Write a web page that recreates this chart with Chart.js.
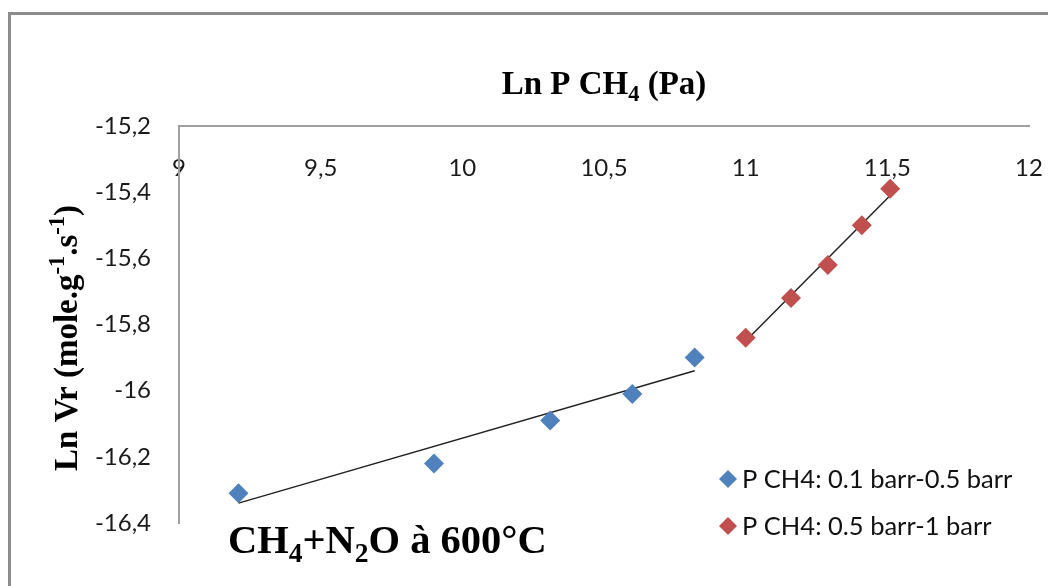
<!DOCTYPE html>
<html lang="fr">
<head>
<meta charset="UTF-8">
<title>Ln Vr vs Ln P CH4</title>
<style>
    html, body { margin: 0; padding: 0; background: #fff; }
    .wrap { width: 1048px; height: 586px; position: relative; }
</style>
</head>
<body>
<div class="wrap"><canvas id="chart" width="1048" height="586"></canvas></div>

<script src="https://cdn.jsdelivr.net/npm/chart.js"></script>
<script>
// measured points: Ln P CH4 (Pa) vs Ln Vr
const lnP_low = [9.21, 9.90, 10.31, 10.60, 10.82];
const lnV_low = [-16.31, -16.22, -16.09, -16.01, -15.90];
const lnP_high = [11.00, 11.16, 11.29, 11.41, 11.51];
const lnV_high = [-15.84, -15.72, -15.62, -15.50, -15.39];

// linear trend lines (end points)
const fitX_low = [9.21, 10.82];
const fitY_low = [-16.34, -15.94];
const fitX_high = [11.00, 11.51];
const fitY_high = [-15.85, -15.41];

const seriesLabels = ['P CH4: 0.1 barr-0.5 barr', 'P CH4: 0.5 barr-1 barr'];
const seriesColors = ['#4F81BD', '#C0504D'];

const xMin = 9, xMax = 12, xStep = 0.5;
const yMin = -16.4, yMax = -15.2, yStep = 0.2;

const pts = (xs, ys) => xs.map((x, i) => ({ x: x, y: ys[i] }));
const comma = v => String(Math.round(v * 10) / 10).replace('.', ',');

const TICK_FONT = { family: 'Lato', size: 24 };
const SERIF = '"Liberation Serif", "Times New Roman", serif';

// draws a run of text pieces with sub/superscripts, starting at x
function drawRich(ctx, parts, x, y, size) {
    let cx = x;
    parts.forEach(p => {
        let s = size, dy = 0;
        if (p.sub) { s = size * 0.68; dy = size * 0.22; }
        if (p.sup) { s = size * 0.68; dy = -size * 0.38; }
        ctx.font = 'bold ' + s + 'px ' + SERIF;
        ctx.fillText(p.t, cx, y + dy);
        cx += ctx.measureText(p.t).width;
    });
    return cx - x;
}
function richWidth(ctx, parts, size) {
    let w = 0;
    parts.forEach(p => {
        const s = (p.sub || p.sup) ? size * 0.68 : size;
        ctx.font = 'bold ' + s + 'px ' + SERIF;
        w += ctx.measureText(p.t).width;
    });
    return w;
}

const decorations = {
    id: 'decorations',
    beforeDraw(chart) {
        const ctx = chart.ctx;
        ctx.save();
        // outer frame (top and left edges visible)
        ctx.strokeStyle = '#8c8c8c';
        ctx.lineWidth = 3;
        ctx.strokeRect(9.5, 13.5, 1100, 700);
        ctx.restore();
    },
    afterDraw(chart) {
        const ctx = chart.ctx;
        ctx.save();
        ctx.fillStyle = '#000';
        ctx.textBaseline = 'alphabetic';

        // x axis title
        const xTitle = [{ t: 'Ln P CH' }, { t: '4', sub: true }, { t: ' (Pa)' }];
        let size = 33;
        let w = richWidth(ctx, xTitle, size);
        drawRich(ctx, xTitle, 604 - w / 2, 94, size);

        // y axis title, rotated
        const yTitle = [{ t: 'Ln Vr (mole.g' }, { t: '-1', sup: true }, { t: '.s' }, { t: '-1', sup: true }, { t: ')' }];
        size = 33;
        w = richWidth(ctx, yTitle, size);
        ctx.save();
        ctx.translate(77, 338);
        ctx.rotate(-Math.PI / 2);
        drawRich(ctx, yTitle, -w / 2, 0, size);
        ctx.restore();

        // reaction note
        const note = [{ t: 'CH' }, { t: '4', sub: true }, { t: '+N' }, { t: '2', sub: true }, { t: 'O à 600°C' }];
        drawRich(ctx, note, 228, 553, 40.5);

        // legend
        ctx.font = '25.5px Lato';
        ctx.textBaseline = 'middle';
        const rows = [479, 526];
        chart.data.datasets.filter(d => d.inLegend).forEach((d, i) => {
            const cx = 728, cy = rows[i], r = 9;
            ctx.fillStyle = d.backgroundColor;
            ctx.beginPath();
            ctx.moveTo(cx - r, cy);
            ctx.lineTo(cx, cy - r);
            ctx.lineTo(cx + r, cy);
            ctx.lineTo(cx, cy + r);
            ctx.closePath();
            ctx.fill();
            ctx.fillStyle = '#111';
            ctx.fillText(d.label, 742, cy + 1);
        });
        ctx.restore();
    }
};

new Chart(document.getElementById('chart'), {
    type: 'scatter',
    data: {
        datasets: [
            {
                label: seriesLabels[0], inLegend: true,
                data: pts(lnP_low, lnV_low),
                backgroundColor: seriesColors[0], borderColor: seriesColors[0],
                pointStyle: 'rectRot', pointRadius: 10, borderWidth: 0
            },
            {
                label: seriesLabels[1], inLegend: true,
                data: pts(lnP_high, lnV_high),
                backgroundColor: seriesColors[1], borderColor: seriesColors[1],
                pointStyle: 'rectRot', pointRadius: 10, borderWidth: 0
            },
            {
                label: 'fit low', type: 'line',
                data: pts(fitX_low, fitY_low),
                borderColor: '#222', borderWidth: 1.5, pointRadius: 0, fill: false
            },
            {
                label: 'fit high', type: 'line',
                data: pts(fitX_high, fitY_high),
                borderColor: '#222', borderWidth: 1.5, pointRadius: 0, fill: false
            }
        ]
    },
    options: {
        responsive: false,
        animation: false,
        layout: { padding: { left: 0, right: 19, top: 126, bottom: 63 } },
        plugins: { legend: { display: false }, tooltip: { enabled: false } },
        scales: {
            x: {
                type: 'linear',
                position: { y: yMax },
                min: xMin, max: xMax,
                afterFit: s => { s.paddingLeft = 0; s.paddingRight = 0; },
                ticks: { stepSize: xStep, callback: comma, font: TICK_FONT, color: '#1a1a1a', padding: 28, maxRotation: 0 },
                grid: { drawOnChartArea: false, drawTicks: false },
                border: { color: '#a0a0a0', width: 2 }
            },
            y: {
                type: 'linear',
                min: yMin, max: yMax,
                afterFit: s => { s.width = 179; },
                ticks: { stepSize: yStep, callback: comma, font: TICK_FONT, color: '#1a1a1a', padding: 28 },
                grid: { drawOnChartArea: false, drawTicks: false },
                border: { color: '#a0a0a0', width: 2 }
            }
        }
    },
    plugins: [decorations]
});
</script>
</body>
</html>
